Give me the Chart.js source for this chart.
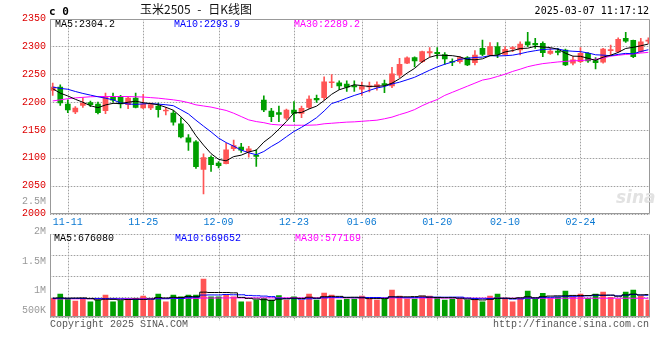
<!DOCTYPE html>
<html><head><meta charset="utf-8">
<script src="https://cdn.jsdelivr.net/npm/chart.js@4.4.1/dist/chart.umd.min.js"></script>
<style>
html,body{margin:0;padding:0;background:#fff;}
#wrap{position:relative;width:660px;height:360px;overflow:hidden;}
canvas{position:absolute;left:0;top:0;}
.t{position:absolute;white-space:pre;font-family:"Liberation Mono",monospace;font-size:10px;line-height:12px;}
</style></head><body>
<div id="wrap">
<canvas id="cp" width="660" height="360"></canvas>
<canvas id="cv" width="660" height="360"></canvas>
<div class="t" style="left:616px;top:187px;font-family:'DejaVu Sans',sans-serif;font-style:italic;font-weight:bold;font-size:17px;line-height:20px;color:#e2e2e2;">sina</div>
<div class="t" style="left:49px;top:5px;font-family:'DejaVu Sans Mono',monospace;font-weight:bold;font-size:11px;line-height:13px;color:#000;">c 0</div>
<div class="t" style="left:140px;top:2px;font-family:'Noto Sans CJK SC',sans-serif;font-size:12px;line-height:14px;color:#111;word-spacing:4px;">玉米2505 - 日K线图</div>
<div class="t" style="right:11px;top:5px;font-family:'DejaVu Sans Mono',monospace;font-size:10px;color:#000;">2025-03-07 11:17:12</div>
<div class="t" style="left:55px;top:18.5px;color:#000;">MA5:2304.2</div>
<div class="t" style="left:174px;top:18.5px;color:#0000ff;">MA10:2293.9</div>
<div class="t" style="left:294px;top:18.5px;color:#ff00ff;">MA30:2289.2</div>
<div class="t" style="left:54px;top:232.5px;color:#000;">MA5:676080</div>
<div class="t" style="left:175px;top:232.5px;color:#0000ff;">MA10:669652</div>
<div class="t" style="left:295px;top:232.5px;color:#ff00ff;">MA30:577169</div>
<div class="t" style="left:50px;top:318.5px;color:#555;">Copyright 2025 SINA.COM</div>
<div class="t" style="right:11px;top:318.5px;color:#555;">http://finance.sina.com.cn</div>
</div>
<script>
// ---------- data ----------
const dates = ['11-07','11-08','11-11','11-12','11-13','11-14','11-15','11-18','11-19','11-20',
'11-21','11-22','11-25','11-26','11-27','11-28','11-29','12-02','12-03','12-04',
'12-05','12-06','12-09','12-10','12-11','12-12','12-13','12-16','12-17','12-18',
'12-19','12-20','12-23','12-24','12-25','12-26','12-27','12-30','12-31','01-02',
'01-03','01-06','01-07','01-08','01-09','01-10','01-13','01-14','01-15','01-16',
'01-17','01-20','01-21','01-22','01-23','01-24','01-27','02-05','02-06','02-07',
'02-10','02-11','02-12','02-13','02-14','02-17','02-18','02-19','02-20','02-21',
'02-24','02-25','02-26','02-27','02-28','03-03','03-04','03-05','03-06','03-07'];
const tickDates = ['11-11','11-25','12-09','12-23','01-06','01-20','02-10','02-24'];

const open = [2220.9,2226.8,2196.5,2182.2,2194.1,2198.9,2196.5,2184.6,2209,2209,
2195.3,2207.2,2189.3,2189.3,2193,2184,2180.4,2160.8,2135.8,2128.6,
2079,2100.7,2090.6,2089.4,2116.2,2119.2,2110.8,2104.9,2203.7,2184,
2181,2170.9,2185.8,2179.8,2190.6,2206.6,2207.8,2234.6,2234.6,2232.2,
2229.8,2223.2,2227.4,2227.4,2233.4,2229,2248.5,2270,2279.8,2272.6,
2288.1,2289.3,2285.1,2273.2,2272.6,2279.7,2270.8,2296.4,2284.5,2299.4,
2285.7,2295.8,2293.4,2308.3,2305.3,2305.3,2287.5,2291.6,2293.4,2269.6,
2272.6,2287.5,2274.4,2271.4,2292.2,2290.5,2314.3,2310.7,2290.5,2309.5];
const high = [2234,2231,2204,2192,2208,2202,2200,2216,2216,2212,
2210,2216,2214,2198,2198,2190.5,2184.6,2171.5,2141.7,2131,
2107,2103.7,2093,2126,2132,2126,2120.4,2114.4,2211.4,2188.8,
2192.9,2187.6,2200.7,2193,2211.4,2212.6,2245.3,2249.5,2238.2,2238.2,
2238.1,2235.7,2236,2236.4,2239.4,2262.5,2278.3,2281,2281,2291.6,
2297.6,2297.6,2288.7,2277.4,2281.5,2281.5,2292.2,2311.3,2307,2307,
2299.4,2299.4,2308.3,2325,2314.3,2308.3,2296.4,2296.4,2295.2,2281.5,
2297.6,2289,2279.7,2296.4,2302.4,2315.4,2325,2311.3,2314.3,2315.4];
const low = [2212,2194,2181,2179,2190.5,2191.7,2178.6,2179,2200,2189.3,
2188,2189.3,2188,2186.4,2172.7,2177,2158.4,2135.8,2113.2,2081,
2035,2075.7,2081.7,2089,2112.6,2109.6,2101.3,2084.6,2182.8,2165,
2165,2168,2165,2172,2188.8,2199.5,2203.7,2225.7,2222.7,2219.1,
2219,2212,2218,2221.5,2216.8,2226,2244,2269,2263,2270.8,
2281.5,2278.5,2267.8,2265.5,2269.6,2265.5,2266.6,2283.3,2284.5,2279.7,
2284.5,2290.5,2284.5,2299.4,2296.4,2281.5,2285.7,2284.5,2265.5,2266.6,
2270.8,2271,2259.5,2269.6,2284.5,2289.3,2307.1,2279.7,2289.3,2305.3];
const close = [2226.8,2198.3,2185.8,2189.3,2198.3,2195.3,2181,2210.2,2203.6,2196.5,
2207.2,2190.5,2196.5,2195.3,2186.4,2185,2163.8,2137.6,2128,2084,
2100.5,2087.6,2085.8,2114.4,2122,2113.8,2116.2,2102.5,2185.8,2173.9,
2178,2185.8,2179.8,2188.8,2205.4,2203.7,2236.4,2235.8,2229.2,2226.9,
2227.4,2228,2228.6,2231.6,2231,2250.5,2267.9,2279.2,2273.9,2290.5,
2290.5,2286.9,2277.4,2271.4,2279.7,2266.6,2284.5,2285.7,2299.4,2285.7,
2294.6,2296.5,2304.1,2302.4,2302.4,2288.7,2291.6,2289.3,2266.6,2275.6,
2287.5,2273.8,2270.8,2295.2,2293,2312.5,2309.5,2281.5,2308.3,2311.3];

const ma5 = [2224,2216,2211,2205,2199.7,2193.4,2189.9,2194.8,2197.7,2197.3,
2199.7,2201.6,2198.9,2197.2,2195.2,2190.7,2185.4,2173.6,2160.2,2139.7,
2122.8,2107.5,2097.2,2094.5,2102.1,2104.7,2110.4,2113.8,2128.1,2138.4,
2151.3,2165.2,2180.7,2181.3,2187.6,2192.7,2202.8,2214,2222.1,2226.4,
2231.1,2229.5,2228,2228.5,2229.3,2233.9,2241.9,2252,2260.5,2272.4,
2280.4,2284.2,2283.8,2283.3,2281.2,2276.4,2275.9,2277.6,2283.2,2284.4,
2290,2292.4,2296.1,2296.7,2300,2298.8,2297.8,2294.9,2287.7,2282.4,
2282.1,2278.6,2274.9,2280.6,2284.1,2289.1,2296.2,2298.3,2301,2304.2];
const ma10 = [2227,2224.5,2223,2219,2215.5,2212.5,2209.5,2207,2204,2198.5,
2196.6,2195.8,2196.8,2197.4,2196.3,2195.2,2193.5,2186.2,2178.7,2167.4,
2156.8,2146.5,2135.4,2127.3,2120.9,2113.8,2109,2105.5,2111.3,2120.3,
2128,2137.8,2147.2,2154.7,2163,2172,2184,2197.3,2201.7,2207,
2211.9,2216.1,2221,2225.3,2227.9,2232.5,2235.7,2240,2244.5,2250.9,
2257.2,2263.1,2267.9,2271.9,2276.8,2278.4,2280.1,2280.7,2283.3,2282.8,
2283.2,2284.2,2286.8,2289.9,2292.2,2294.4,2295.1,2295.5,2292.2,2291.2,
2290.5,2288.2,2284.9,2284.2,2283.2,2285.6,2287.4,2286.6,2290.8,2293.9];
const ma30 = [2202,2204,2206,2207.5,2208.5,2209.5,2210,2210,2210,2210,
2210,2209.5,2209,2208,2207,2205.5,2204,2202,2199,2195,
2193,2191,2188,2185,2180,2174,2168,2165,2163,2160,
2159,2158.5,2158.4,2158.4,2158.5,2159,2161,2162,2163,2164,
2164.5,2165.5,2166.5,2167.5,2170,2173,2177.5,2181.5,2186.5,2193.5,
2199.5,2204.5,2212,2217.5,2223,2228.5,2234,2239.5,2242,2246,
2250,2255,2259,2263.5,2266.5,2269,2270.5,2272,2273,2274,
2274.5,2275.5,2277,2279,2282.5,2284,2285.5,2286.5,2288,2289.2];

// volumes in thousands of lots
const volume = [578,708,578,496,578,474,526,678,474,505,
526,578,648,526,708,474,678,626,678,678,
1164,626,626,678,626,474,474,526,578,526,
657,526,626,526,708,526,739,678,526,556,
556,648,556,526,556,830,648,556,556,648,
648,608,526,556,556,526,526,474,648,708,
556,474,578,800,547,730,578,608,800,608,
708,578,708,769,608,547,769,830,648,526];
const volMa5 = [582,588,582,584,588,566,530,550,546,531,
541,553,546,556,597,587,607,603,633,627,
764,754,754,754,744,605,575,555,536,516,
553,563,583,573,609,583,626,636,636,605,
611,593,569,569,569,623,623,623,629,647,
611,603,597,597,579,555,539,527,546,576,
582,573,593,623,592,626,646,652,652,665,
661,661,681,675,675,642,681,705,680,690];
const volMa10 = [575,577,575,574,573,571,569,566,564,560,
554,541,549,551,564,564,579,574,594,612,
676,680,679,694,685,685,665,655,645,629,
579,569,569,554,563,568,594,609,604,607,
597,609,602,602,587,617,608,595,599,608,
617,613,611,613,613,583,570,563,571,578,
569,555,560,585,584,604,609,623,638,628,
643,653,666,664,670,651,671,693,677,670];
const volMa30 = [559,560,560,561,563,563,564,564,565,565,
566,566,568,569,570,570,571,573,574,575,
584,585,586,588,589,589,589,590,590,590,
592,592,592,590,590,590,592,592,592,590,
590,589,589,588,588,589,589,588,588,586,
586,585,585,584,584,582,582,582,582,582,
580,580,580,580,579,579,579,579,579,578,
578,578,578,578,578,578,578,578,578,577];

const priceTicks = [2000,2050,2100,2150,2200,2250,2300,2350];
const volTickValues = [500000,1000000,1500000,2000000,2500000];
const volTickLabels = ['500K','1M','1.5M','2M','2.5M'];

// ---------- style ----------
const UP = '#ff5555', DOWN = '#009f00';
const GRID = '#a0a0a0', GRID_SOFT = '#e2e2e2', FRAME = '#999999';
const MONO = "'Liberation Mono', monospace";
const candleColor = close.map((c,i) => c >= open[i] ? UP : DOWN);
const K = 1000;

// grid (drawn behind the marks) + panel frame, both at the scales' positions
const panel = {
  id: 'panel',
  afterDatasetsDraw(chart, args, opts) {
    const {ctx, chartArea: a, scales} = chart;
    const xs = scales.x, ys = scales[opts.yId];
    const L = Math.round(a.left), R = Math.round(a.right);
    const T = Math.round(a.top), B = Math.round(a.bottom);
    const below = opts.below || 0;
    const xp = xs.ticks.map(t => Math.round(xs.getPixelForValue(t.value)));
    const yp = ys.ticks.map(t => Math.round(ys.getPixelForValue(t.value)));
    ctx.save();
    ctx.globalCompositeOperation = 'destination-over';
    ctx.fillStyle = GRID;
    xp.forEach(x => { for (let y = T; y < B + below; y += 3) ctx.fillRect(x, y, 1, 1); });
    yp.forEach(y => { for (let x = L; x < R; x += 3) ctx.fillRect(x, y, 1, 1); });
    ctx.fillStyle = GRID_SOFT;
    xp.forEach(x => ctx.fillRect(x, T, 1, B + below - T));
    yp.forEach(y => ctx.fillRect(L, y, R - L, 1));
    ctx.restore();
  },
  afterDraw(chart, args, opts) {
    const {ctx, chartArea: a} = chart;
    const l = Math.round(a.left) + 0.5, r = Math.round(a.right) - 0.5;
    const t = Math.round(a.top) + 0.5, b = Math.round(a.bottom) - 0.5;
    ctx.save();
    ctx.strokeStyle = FRAME; ctx.lineWidth = 1; ctx.setLineDash([]);
    ctx.beginPath();
    if (opts.top) { ctx.moveTo(l, t); ctx.lineTo(r, t); }
    ctx.moveTo(l, t); ctx.lineTo(l, b); ctx.lineTo(r, b); ctx.lineTo(r, t);
    ctx.stroke();
    ctx.restore();
  }
};

function xAxis(showLabels) {
  return {
    type: 'linear', min: -0.36, max: 79.22, offset: false,
    afterBuildTicks: s => { s.ticks = tickDates.map(d => ({value: dates.indexOf(d)})); },
    ticks: {display: showLabels, autoSkip: false, maxRotation: 0, color: '#0a78d2',
      font: {family: MONO, size: 10}, padding: 3, callback: v => dates[v]},
    grid: {display: false, drawTicks: false},
    border: {display: false},
    afterFit: s => { s.height = showLabels ? 20 : 0; }
  };
}

const common = {
  responsive: false, maintainAspectRatio: false, animation: false, devicePixelRatio: 1,
  events: []
};

// ---------- price chart ----------
new Chart(document.getElementById('cp'), {
  type: 'bar',
  data: {
    datasets: [
      {type: 'line', data: ma5.map((v,i)=>({x:i,y:v})), borderColor: '#000', borderWidth: 1, pointRadius: 0, tension: 0, fill: false, order: 0},
      {type: 'line', data: ma10.map((v,i)=>({x:i,y:v})), borderColor: '#0000ff', borderWidth: 1, pointRadius: 0, tension: 0, fill: false, order: 0},
      {type: 'line', data: ma30.map((v,i)=>({x:i,y:v})), borderColor: '#ff00ff', borderWidth: 1, pointRadius: 0, tension: 0, fill: false, order: 0},
      {type: 'bar', data: open.map((o,i)=>({x:i,y:[o, close[i]]})), backgroundColor: candleColor,
        barThickness: 5, minBarLength: 1, grouped: false, borderWidth: 0, order: 1},
      {type: 'bar', data: low.map((l,i)=>({x:i,y:[l, high[i]]})), backgroundColor: candleColor,
        barThickness: 1, grouped: false, borderWidth: 0, order: 2}
    ]
  },
  options: Object.assign({}, common, {
    layout: {padding: {left: 0, right: 10, top: 18.5, bottom: 126.5}},
    plugins: {legend: {display: false}, tooltip: {enabled: false},
      panel: {top: true, yId: 'y', below: 0}},
    scales: {
      x: xAxis(true),
      y: {
        type: 'linear', position: 'left', min: 2000, max: 2350,
        afterBuildTicks: s => { s.ticks = priceTicks.map(v => ({value: v})); },
        ticks: {color: '#dd0000', font: {family: MONO, size: 10}, padding: 4, autoSkip: false,
          callback: v => String(v)},
        grid: {display: false, drawTicks: false},
        border: {display: false},
        afterFit: s => { s.width = 50; }
      }
    }
  }),
  plugins: [panel]
});

// ---------- volume chart ----------
new Chart(document.getElementById('cv'), {
  type: 'bar',
  data: {
    datasets: [
      {type: 'line', data: volMa5.map((v,i)=>({x:i,y:v*K})), borderColor: '#000', borderWidth: 1, pointRadius: 0, stepped: 'middle', fill: false, yAxisID: 'y', order: 0},
      {type: 'line', data: volMa10.map((v,i)=>({x:i,y:v*K})), borderColor: '#0000ff', borderWidth: 1, pointRadius: 0, stepped: 'middle', fill: false, yAxisID: 'y', order: 0},
      {type: 'line', data: volMa30.map((v,i)=>({x:i,y:v*K})), borderColor: '#ff00ff', borderWidth: 1, pointRadius: 0, stepped: 'middle', fill: false, yAxisID: 'y', order: 0},
      {type: 'bar', data: volume.map((v,i)=>({x:i,y:v*K})), backgroundColor: candleColor,
        barThickness: 5, grouped: false, borderWidth: 0, yAxisID: 'y', order: 1}
    ]
  },
  options: Object.assign({}, common, {
    layout: {padding: {left: 0, right: 10, top: 234.3, bottom: 42.7}},
    plugins: {legend: {display: false}, tooltip: {enabled: false},
      panel: {top: false, yId: 'y', below: 4}},
    scales: {
      x: xAxis(false),
      yl: {
        type: 'linear', position: 'left', min: 552200, max: 1949500,
        afterBuildTicks: s => {
          const lo = s.min + (s.max - s.min) * 0.08;
          s.ticks = volTickValues.map(v => ({value: Math.max(v, lo)}));
        },
        ticks: {color: '#999999', font: {family: MONO, size: 10}, padding: 4, autoSkip: false,
          callback: (v, i) => volTickLabels[i]},
        grid: {display: false, drawTicks: false},
        border: {display: false},
        afterFit: s => { s.width = 50; }
      },
      y: {
        type: 'linear', position: 'right', min: 0, max: 2523500,
        ticks: {display: false, count: 5},
        grid: {display: false, drawTicks: false},
        border: {display: false},
        afterFit: s => { s.width = 0; }
      }
    }
  }),
  plugins: [panel]
});
</script>
</body></html>
